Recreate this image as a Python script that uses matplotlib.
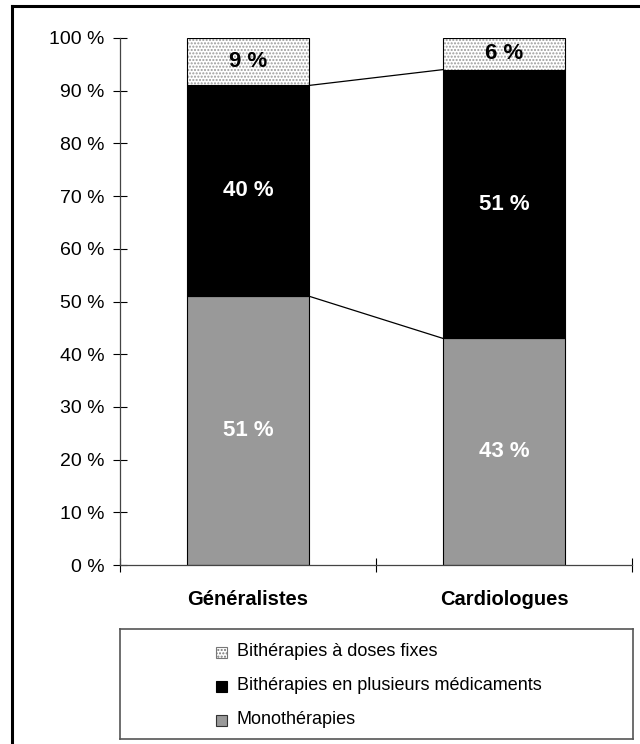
import numpy as np
import matplotlib
matplotlib.use("Agg")
import matplotlib.pyplot as plt
from matplotlib.patches import Rectangle
from matplotlib.lines import Line2D

plt.rcParams['font.family'] = ['Liberation Sans', 'DejaVu Sans']

# Données
categories = ['Généralistes', 'Cardiologues']
monotherapies = [51, 43]
bitherapies_plusieurs = [40, 51]
bitherapies_fixes = [9, 6]
series_names = ['Bithérapies à doses fixes',
                'Bithérapies en plusieurs médicaments',
                'Monothérapies']
yticks = [0, 10, 20, 30, 40, 50, 60, 70, 80, 90, 100]

W, H = 640, 744
fig = plt.figure(figsize=(6.4, 7.44), dpi=100)

# Cadre extérieur (haut et gauche)
fig.add_artist(Line2D([12 / W, 12 / W], [0, 1 - 6 / H], color='black', lw=2.2,
                      transform=fig.transFigure))
fig.add_artist(Line2D([12 / W, 1], [1 - 6 / H, 1 - 6 / H], color='black', lw=2.2,
                      transform=fig.transFigure))

ax = fig.add_axes([120 / W, 1 - 565 / H, 512 / W, 527 / H])

x = np.arange(len(categories))
width = 0.477
grey = '#999999'

mono = np.array(monotherapies)
plus = np.array(bitherapies_plusieurs)
fixes = np.array(bitherapies_fixes)

ax.bar(x, mono, width, color=grey, edgecolor='black', linewidth=0.8)
ax.bar(x, plus, width, bottom=mono, color='black', edgecolor='black', linewidth=0.8)
# segment pointillé : hachures grises puis contour noir
ax.bar(x, fixes, width, bottom=mono + plus, color='white', edgecolor='#9a9a9a',
       hatch='.....', linewidth=0)
ax.bar(x, fixes, width, bottom=mono + plus, color='none', edgecolor='black', linewidth=0.8)

# Lignes de liaison entre les barres
for level in [mono, mono + plus]:
    ax.plot([x[0] + width / 2, x[1] - width / 2], [level[0], level[1]],
            color='black', lw=0.9)

# Étiquettes de valeurs
lab = dict(ha='center', va='center', fontsize=16, fontweight='bold')
for i in range(len(categories)):
    ax.text(x[i], mono[i] / 2, f'{mono[i]} %', color='white', **lab)
    ax.text(x[i], mono[i] + plus[i] / 2, f'{plus[i]} %', color='white', **lab)
    ax.text(x[i], mono[i] + plus[i] + fixes[i] / 2, f'{fixes[i]} %', color='black', **lab)

ax.set_xlim(-0.5, 1.5)
ax.set_ylim(0, 100)
ax.set_yticks(yticks)
ax.set_yticklabels([f'{t} %' for t in yticks], fontsize=14)
ax.set_xticks([-0.5, 0.5, 1.5])
ax.set_xticklabels([])
ax.set_xticks(x, minor=True)
ax.set_xticklabels(categories, minor=True, fontsize=14.5, fontweight='bold')
ax.tick_params(axis='x', which='minor', length=0, pad=18)
ax.tick_params(axis='x', which='major', direction='inout', length=10, width=0.8)
ax.tick_params(axis='y', direction='inout', length=10, width=0.8, pad=6)

for s in ['top', 'right']:
    ax.spines[s].set_visible(False)
for s in ['left', 'bottom']:
    ax.spines[s].set_color('#444444')
    ax.spines[s].set_linewidth(0.9)

# Légende dans un cadre
lax = fig.add_axes([120 / W, 1 - 739 / H, 513 / W, 110 / H])
lax.set_xlim(0, 513)
lax.set_ylim(110, 0)
lax.set_xticks([])
lax.set_yticks([])
for s in lax.spines.values():
    s.set_color('#555555')
    s.set_linewidth(1.2)

rows = [23, 57, 91]
styles = [dict(facecolor='white', edgecolor='#777777', hatch='.....'),
          dict(facecolor='black', edgecolor='black'),
          dict(facecolor=grey, edgecolor='#333333')]
for name, yy, st in zip(series_names, rows, styles):
    lax.add_patch(Rectangle((96, yy - 5), 11, 11, linewidth=0.8, **st))
    lax.text(117, yy, name, ha='left', va='center', fontsize=13)

fig.savefig('out.png', dpi=100)
